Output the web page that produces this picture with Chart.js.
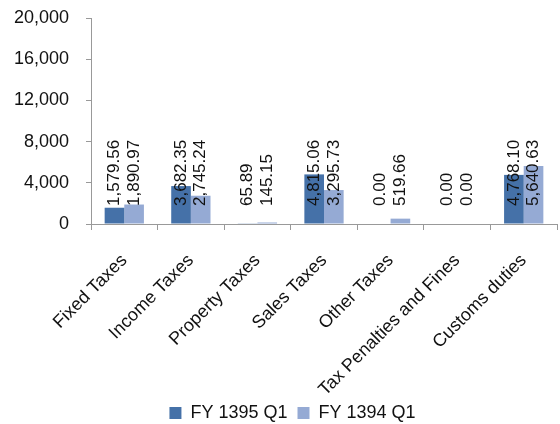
<!DOCTYPE html>
<html><head><meta charset="utf-8">
<script src="https://cdn.jsdelivr.net/npm/chart.js@4/dist/chart.umd.min.js"></script>
<style>html,body{margin:0;padding:0;background:#fff;}#wrap{width:560px;height:424px;}</style>
</head><body><div id="wrap"><canvas id="c" width="560" height="424"></canvas></div>
<script>
const categories = ["Fixed Taxes","Income Taxes","Property Taxes","Sales Taxes","Other Taxes","Tax Penalties and Fines","Customs duties"];
const fy1395 = [1579.56, 3682.35, 65.89, 4815.06, 0.00, 0.00, 4768.10];
const fy1394 = [1890.97, 2745.24, 145.15, 3295.73, 519.66, 0.00, 5640.63];
const seriesNames = ["FY 1395 Q1","FY 1394 Q1"];
const yTicks = [0, 4000, 8000, 12000, 16000, 20000];

const FONT = "'Liberation Sans', Arial, sans-serif";
const fmt = v => v.toLocaleString('en-US',{minimumFractionDigits:2,maximumFractionDigits:2});

const labelPlugin = {
  id:'vlabels',
  afterLayout(chart){
    if (chart.legend) { chart.legend.left += 14; chart.legend.right += 14; }
  },
  afterDatasetsDraw(chart){
    const ctx = chart.ctx;
    const base = chart.scales.y.getPixelForValue(0);
    ctx.save();
    ctx.font = "17px " + FONT;
    ctx.fillStyle = "#111";
    ctx.textAlign = "left";
    ctx.textBaseline = "middle";
    chart.data.datasets.forEach((ds,i)=>{
      const meta = chart.getDatasetMeta(i);
      meta.data.forEach((bar,j)=>{
        ctx.save();
        ctx.translate(bar.x, base - 18);
        ctx.rotate(-Math.PI/2);
        ctx.fillText(fmt(ds.data[j]), 0, 0);
        ctx.restore();
      });
    });
    ctx.restore();
  }
};

new Chart(document.getElementById('c'), {
  type:'bar',
  data:{
    labels: categories,
    datasets:[
      {label: seriesNames[0], data: fy1395, backgroundColor:'#4571A8', barPercentage:1.0, categoryPercentage:0.59},
      {label: seriesNames[1], data: fy1394, backgroundColor:'#95AAD4', barPercentage:1.0, categoryPercentage:0.59}
    ]
  },
  options:{
    responsive:false, animation:false,
    layout:{padding:{top:18,right:3,left:0,bottom:-8}},
    plugins:{
      legend:{position:'bottom', labels:{font:{size:18,family:FONT}, color:'#111', boxWidth:12, boxHeight:12, padding:10}},
      tooltip:{enabled:false}
    },
    scales:{
      x:{
        grid:{drawOnChartArea:false, color:'#999', tickLength:6, offset:true},
        border:{color:'#999'},
        ticks:{font:{size:18,family:FONT}, color:'#111', minRotation:45, maxRotation:45, autoSkip:false, padding:20},
        afterFit(s){ s.height = 170; }
      },
      y:{
        min:0, max:20000,
        afterBuildTicks(s){ s.ticks = yTicks.map(v=>({value:v})); },
        grid:{drawOnChartArea:false, color:'#999', tickLength:5},
        border:{color:'#999'},
        ticks:{font:{size:18,family:FONT}, color:'#111', padding:17, callback:v=>v.toLocaleString('en-US')},
        afterFit(s){ s.width = 91; s.paddingTop = 0; s.paddingBottom = 0; }
      }
    }
  },
  plugins:[labelPlugin]
});
</script></body></html>
